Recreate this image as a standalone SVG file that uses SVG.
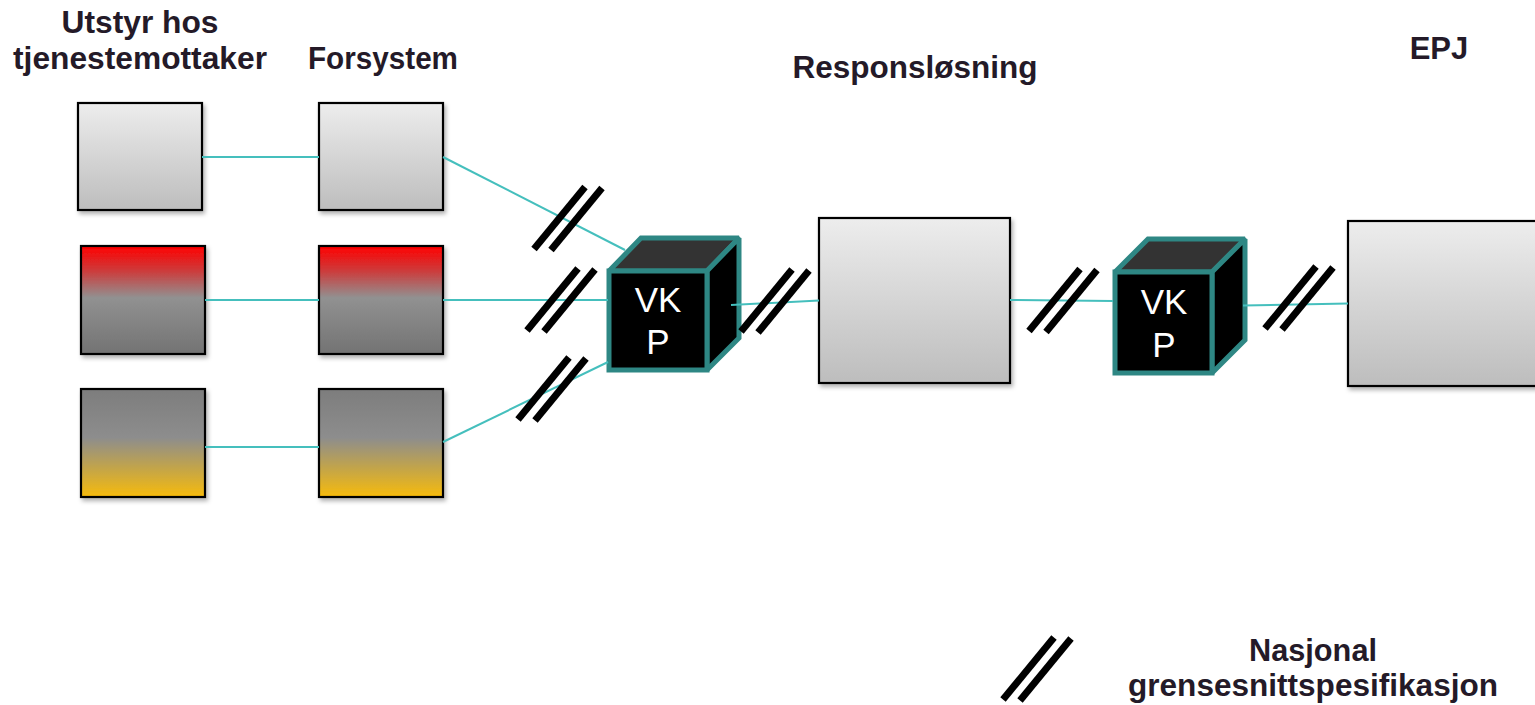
<svg xmlns="http://www.w3.org/2000/svg" xmlns:xlink="http://www.w3.org/1999/xlink" width="1535" height="705" viewBox="0 0 1535 705">
<defs>
<style>
.title{font-family:"Liberation Sans",Arial,sans-serif;font-weight:bold;font-size:31px;fill:#241a28;text-anchor:middle}
.box{stroke:#000;stroke-width:2.2;filter:url(#sh)}
.conn{stroke:#45bfbd;stroke-width:2;fill:none}
.cube{stroke:#2e8784;stroke-width:5;stroke-linejoin:miter;stroke-miterlimit:2}
.vkp{font-family:"Liberation Sans",Arial,sans-serif;font-size:35px;fill:#fff;text-anchor:middle}
.bar{stroke:#000;stroke-width:7;stroke-linecap:butt}
</style>
<filter id="sh" x="-10%" y="-10%" width="130%" height="130%">
<feDropShadow dx="2" dy="3" stdDeviation="2" flood-color="#000" flood-opacity="0.3"/>
</filter>
<linearGradient id="gGray" x1="0" y1="0" x2="0" y2="1">
<stop offset="0" stop-color="#ededed"/>
<stop offset="1" stop-color="#bdbdbd"/>
</linearGradient>
<linearGradient id="gRed" x1="0" y1="0" x2="0" y2="1">
<stop offset="0" stop-color="#ff0000"/>
<stop offset="0.22" stop-color="#cf3838"/>
<stop offset="0.48" stop-color="#919191"/>
<stop offset="1" stop-color="#737373"/>
</linearGradient>
<linearGradient id="gYel" x1="0" y1="0" x2="0" y2="1">
<stop offset="0" stop-color="#7d7d7d"/>
<stop offset="0.45" stop-color="#8d8d8d"/>
<stop offset="0.75" stop-color="#c6a646"/>
<stop offset="1" stop-color="#f7bb0c"/>
</linearGradient>
<g id="slash">
<line class="bar" x1="-34" y1="31" x2="17" y2="-31"/>
<line class="bar" x1="-17" y1="32" x2="34" y2="-30"/>
</g>
</defs>
<rect width="1535" height="705" fill="#fff"/>

<g id="titles">
<text class="title" x="140" y="33" textLength="157" lengthAdjust="spacingAndGlyphs">Utstyr hos</text>
<text class="title" x="140" y="69" textLength="254" lengthAdjust="spacingAndGlyphs">tjenestemottaker</text>
<text class="title" x="383" y="69" textLength="150" lengthAdjust="spacingAndGlyphs">Forsystem</text>
<text class="title" x="915" y="78" textLength="245" lengthAdjust="spacingAndGlyphs">Responsløsning</text>
<text class="title" x="1439" y="59">EPJ</text>
</g>

<g id="utstyr1"><rect class="box" x="78" y="103" width="124" height="107" fill="url(#gGray)"/></g>
<g id="utstyr2"><rect class="box" x="81" y="246" width="124" height="108" fill="url(#gRed)"/></g>
<g id="utstyr3"><rect class="box" x="81" y="389" width="124" height="108" fill="url(#gYel)"/></g>
<g id="forsystem1"><rect class="box" x="319" y="103" width="124" height="107" fill="url(#gGray)"/></g>
<g id="forsystem2"><rect class="box" x="319" y="246" width="124" height="108" fill="url(#gRed)"/></g>
<g id="forsystem3"><rect class="box" x="319" y="389" width="124" height="108" fill="url(#gYel)"/></g>
<g id="responslosning"><rect class="box" x="819" y="218" width="191" height="165" fill="url(#gGray)"/></g>
<g id="epj"><rect class="box" x="1348" y="221" width="191" height="165" fill="url(#gGray)"/></g>

<g id="vkp1">
<polygon class="cube" points="609,271 641,238 739,238 707,271" fill="#333"/>
<polygon class="cube" points="707,271 739,238 739,338 707,370" fill="#000"/>
<rect class="cube" x="609" y="271" width="98" height="99" fill="#000"/>
<text class="vkp" x="658" y="312">VK</text>
<text class="vkp" x="658" y="354">P</text>
</g>
<g id="vkp2">
<polygon class="cube" points="1115,272 1148,239 1245,239 1212,272" fill="#333"/>
<polygon class="cube" points="1212,272 1245,239 1245,340 1212,373" fill="#000"/>
<rect class="cube" x="1115" y="272" width="97" height="101" fill="#000"/>
<text class="vkp" x="1164" y="314">VK</text>
<text class="vkp" x="1164" y="357">P</text>
</g>

<g id="connectors">
<line class="conn" x1="202" y1="157" x2="319" y2="157"/>
<line class="conn" x1="205" y1="300" x2="319" y2="300"/>
<line class="conn" x1="205" y1="447" x2="319" y2="447"/>
<line class="conn" x1="443" y1="157" x2="625" y2="250"/>
<line class="conn" x1="443" y1="300" x2="608" y2="300"/>
<line class="conn" x1="443" y1="442" x2="608" y2="362"/>
<line class="conn" x1="731" y1="305" x2="819" y2="300.5"/>
<line class="conn" x1="1010" y1="300" x2="1113" y2="301"/>
<line class="conn" x1="1243" y1="305.5" x2="1348" y2="303.5"/>
</g>

<g id="interfaces">
<use xlink:href="#slash" transform="translate(568,218)"/>
<use xlink:href="#slash" transform="translate(561,299.5)"/>
<use xlink:href="#slash" transform="translate(552,388.5)"/>
<use xlink:href="#slash" transform="translate(775,300.5)"/>
<use xlink:href="#slash" transform="translate(1063,300)"/>
<use xlink:href="#slash" transform="translate(1299,297.5)"/>
</g>

<g id="legend">
<use xlink:href="#slash" transform="translate(1037,668.5)"/>
<text class="title" x="1313" y="661" textLength="128" lengthAdjust="spacingAndGlyphs">Nasjonal</text>
<text class="title" x="1313" y="696" textLength="370" lengthAdjust="spacingAndGlyphs">grensesnittspesifikasjon</text>
</g>
</svg>
